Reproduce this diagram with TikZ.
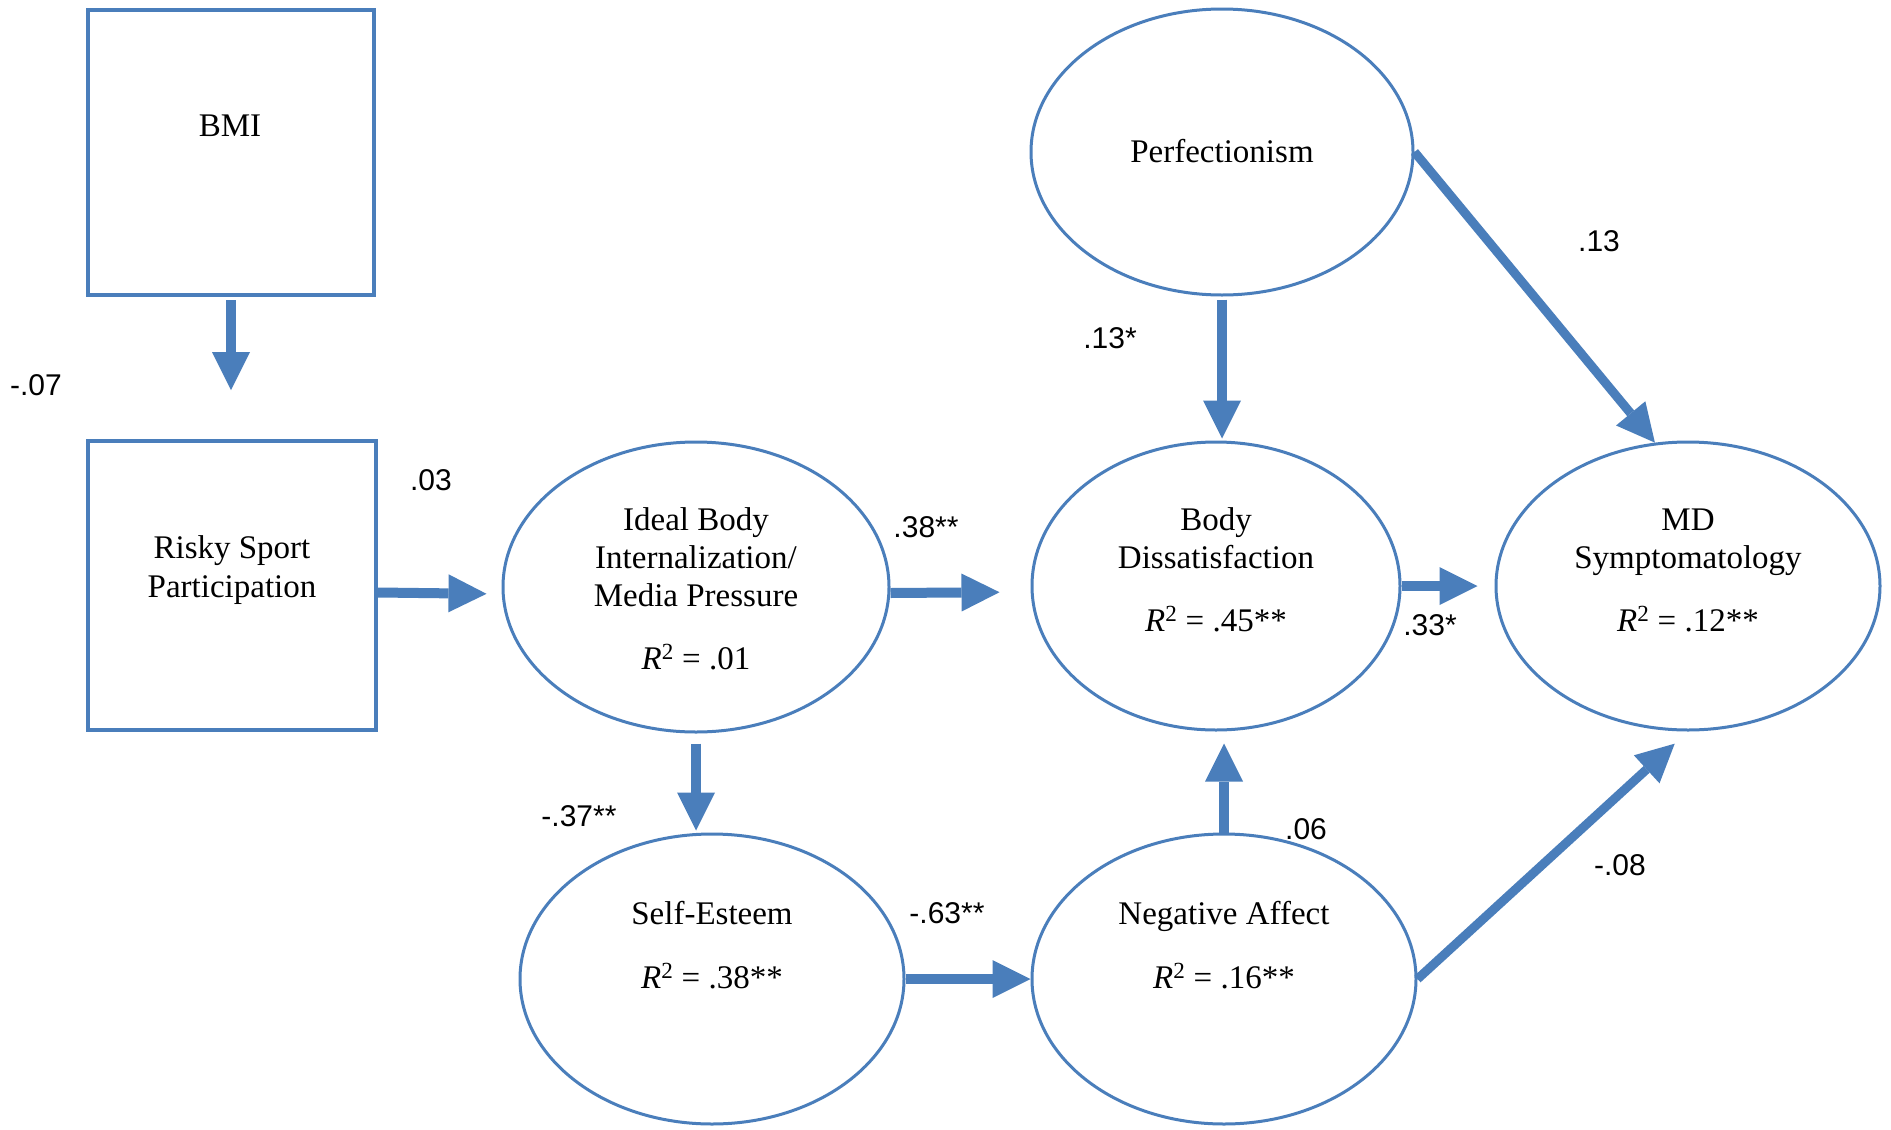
\documentclass[tikz,border=0pt]{standalone}
\usepackage{fontspec}
\setmainfont{Liberation Serif}
\newfontfamily\labfont{Liberation Sans}
\usetikzlibrary{arrows.meta,shapes.geometric}
\definecolor{sem}{RGB}{74,126,187}
\begin{document}
\begin{tikzpicture}[x=1pt,y=-1pt,
  box/.style={draw=sem, line width=4pt, fill=white, inner sep=0pt},
  lat/.style={draw=sem, line width=3pt, fill=white, ellipse, inner sep=0pt},
  txt/.style={font=\fontsize{33}{39}\selectfont, text height=26pt, text depth=4pt, inner sep=0pt},
  coef/.style={font=\labfont\fontsize{30}{36}\selectfont, inner sep=0pt},
  pathar/.style={draw=sem, line width=10pt, -{Triangle[width=38pt,length=38pt,line width=0pt]}},
]
\useasboundingbox[fill=white] (0,0) rectangle (1891,1130);

% observed variables
\node[box, minimum width=286pt, minimum height=285pt] (bmi) at (231,152.5) {};
\node[txt] (bmit) at (230,125) {BMI};
\node[box, minimum width=288pt, minimum height=289pt] (risky) at (232,585.5) {};
\node[txt] (risky1) at (232,547) {Risky Sport};
\node[txt] (risky2) at (232,586) {Participation};

% latent variables
\node[lat, minimum width=386pt, minimum height=290pt] (ideal) at (696,587) {};
\node[txt] (ideal1) at (696,519) {Ideal Body};
\node[txt] (ideal2) at (696,557) {Internalization/};
\node[txt] (ideal3) at (696,595) {Media Pressure};
\node[txt] (ideal4) at (696,658) {\textit{R}\textsuperscript{2} = .01};

\node[lat, minimum width=368pt, minimum height=288pt] (body) at (1216,586) {};
\node[txt] (body1) at (1216,519) {Body};
\node[txt] (body2) at (1216,557) {Dissatisfaction};
\node[txt] (body3) at (1216,620) {\textit{R}\textsuperscript{2} = .45**};

\node[lat, minimum width=384pt, minimum height=288pt] (md) at (1688,586) {};
\node[txt] (md1) at (1688,519) {MD};
\node[txt] (md2) at (1688,557) {Symptomatology};
\node[txt] (md3) at (1688,620) {\textit{R}\textsuperscript{2} = .12**};

\node[lat, minimum width=382pt, minimum height=286pt] (perf) at (1222,152) {};
\node[txt] (perf1) at (1222,151) {Perfectionism};

\node[lat, minimum width=384pt, minimum height=290pt] (se) at (712,979) {};
\node[txt] (se1) at (712,913) {Self-Esteem};
\node[txt] (se2) at (712,977) {\textit{R}\textsuperscript{2} = .38**};

\node[lat, minimum width=384pt, minimum height=290pt] (na) at (1224,979) {};
\node[txt] (na1) at (1224,913) {Negative Affect};
\node[txt] (na2) at (1224,977) {\textit{R}\textsuperscript{2} = .16**};

% paths
\draw[pathar, shorten <=3pt, shorten >=49pt] (bmi.south) -- (bmi.south |- risky.north);
\draw[pathar, shorten >=15pt] ([yshift=-7pt]risky.east) -- ([yshift=-7pt]ideal.west);
\draw[pathar, shorten >=31pt] ([yshift=-6pt]ideal.east) -- ([yshift=-6pt]body.west);
\draw[pathar, shorten >=17pt] (body.east) -- (md.west);
\draw[pathar, shorten <=3pt, shorten >=2pt] (perf.south) -- (perf.south |- body.north);
\draw[pathar, line width=9pt] (perf.east) -- (md.103);
\draw[pathar, shorten <=10pt, shorten >=2pt] (ideal.south) -- (ideal.south |- se.north);
\draw[pathar] (se.east) -- (na.west);
\draw[pathar, shorten >=12pt] (na.north) -- (na.north |- body.south);
\draw[pathar, line width=9pt, shorten >=18pt] (na.east) -- (md.south);

% coefficients
\node[coef] (c1) at (36,385) {-.07};
\node[coef] (c2) at (431,480) {.03};
\node[coef] (c3) at (926,527) {.38**};
\node[coef] (c4) at (1430,625) {.33*};
\node[coef] (c5) at (1110,338) {.13*};
\node[coef] (c6) at (1599,241) {.13};
\node[coef] (c7) at (579,816) {-.37**};
\node[coef] (c8) at (947,913) {-.63**};
\node[coef] (c9) at (1306,829) {.06};
\node[coef] (c10) at (1620,865) {-.08};
\end{tikzpicture}
\end{document}
